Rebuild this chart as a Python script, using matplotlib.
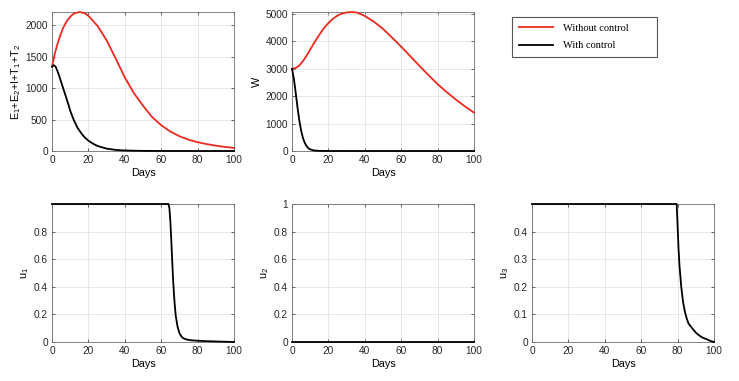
import matplotlib
matplotlib.use("Agg")
import matplotlib.pyplot as plt
from matplotlib.ticker import FuncFormatter

# ---------------- data ----------------
t_E_red = [0, 1, 2, 3, 4, 6, 8, 10, 12, 15, 18, 20, 25, 30, 35, 40, 45, 50, 55, 60,
           65, 70, 75, 80, 85, 90, 95, 100]
E_red = [1340, 1480, 1600, 1700, 1790, 1950, 2060, 2135, 2185, 2210, 2190, 2150,
         1990, 1760, 1470, 1170, 920, 720, 540, 410, 310, 235, 180, 140, 110, 85,
         65, 50]

t_E_black = [0, 1, 2, 3, 4, 5, 6, 7, 8, 9, 10, 12, 14, 16, 18, 20, 22, 25, 30,
             35, 40, 50, 60, 80, 100]
E_black = [1340, 1365, 1340, 1270, 1190, 1100, 1010, 920, 830, 740, 640, 490, 370,
           285, 215, 165, 125, 80, 38, 17, 8, 2, 0.5, 0, 0]

t_W_red = [0, 2, 4, 6, 8, 10, 12, 14, 16, 18, 20, 22, 24, 26, 28, 30, 33, 36, 40,
           45, 50, 55, 60, 65, 70, 75, 80, 85, 90, 95, 100]
W_red = [3000, 3030, 3120, 3280, 3480, 3700, 3930, 4140, 4340, 4520, 4670, 4800,
         4900, 4980, 5030, 5060, 5075, 5050, 4930, 4720, 4460, 4140, 3810, 3460,
         3110, 2770, 2440, 2150, 1880, 1630, 1400]

t_W_black = [0, 1, 2, 3, 4, 5, 6, 7, 8, 9, 10, 12, 15, 20, 30, 100]
W_black = [3000, 2650, 2150, 1600, 1120, 750, 480, 300, 180, 100, 60, 20, 5, 1, 0, 0]

t_u1 = [0, 64, 64.5, 65, 65.5, 66, 66.5, 67, 67.5, 68, 69, 70, 71, 72, 74, 76,
        80, 85, 90, 95, 100]
u1 = [1, 1, 0.97, 0.88, 0.75, 0.6, 0.46, 0.35, 0.26, 0.19, 0.11, 0.065, 0.042,
      0.028, 0.018, 0.013, 0.009, 0.006, 0.004, 0.002, 0]

t_u2 = [0, 100]
u2 = [0, 0]

t_u3 = [0, 79.5, 80, 80.5, 81, 82, 83, 84, 85, 86, 88, 90, 92, 94, 96, 98, 100]
u3 = [0.5, 0.5, 0.42, 0.34, 0.28, 0.2, 0.145, 0.11, 0.085, 0.067, 0.05, 0.034,
      0.023, 0.015, 0.01, 0.004, 0]

xticks = [0, 20, 40, 60, 80, 100]
legend_labels = ["Without control", "With control"]

RED = "#ee2a1e"
BLACK = "#000000"
plt.rcParams["font.family"] = ["Liberation Sans", "DejaVu Sans"]
plt.rcParams["mathtext.fontset"] = "custom"
plt.rcParams["mathtext.rm"] = "Liberation Sans"
plt.rcParams["mathtext.it"] = "Liberation Sans"

W, H = 739, 381
fig = plt.figure(figsize=(W / 100, H / 100), dpi=100)


def rect(l, r, t, b):
    return [l / W, 1 - b / H, (r - l) / W, (b - t) / H]


fmt = FuncFormatter(lambda v, p: "%g" % v)


def style(ax, ylabel, yticks, ylim):
    ax.set_xlim(0, 100)
    ax.set_ylim(*ylim)
    ax.set_xticks(xticks)
    ax.set_yticks(yticks)
    ax.xaxis.set_major_formatter(fmt)
    ax.yaxis.set_major_formatter(fmt)
    ax.grid(True, color="#e3e3e3", linewidth=0.6)
    ax.set_axisbelow(True)
    ax.tick_params(direction="in", length=2.5, width=0.5, labelsize=7.3,
                   top=True, right=True, colors="#262626", pad=3)
    for s in ax.spines.values():
        s.set_color("#6e6e6e")
        s.set_linewidth(0.6)
    ax.set_xlabel("Days", fontsize=7.8, labelpad=2)
    ax.set_ylabel(ylabel, fontsize=7.8, labelpad=2)


kw = dict(lw=1.3, clip_on=False, zorder=3)

ax1 = fig.add_axes(rect(52, 234, 12, 151))
l_red, = ax1.plot(t_E_red, E_red, color=RED, **kw)
l_blk, = ax1.plot(t_E_black, E_black, color=BLACK, **kw)
style(ax1, r"$\mathregular{E_1}$+$\mathregular{E_2}$+I+$\mathregular{T_1}$+$\mathregular{T_2}$",
      [0, 500, 1000, 1500, 2000], (0, max(E_red)))

ax2 = fig.add_axes(rect(292, 474, 12, 151))
ax2.plot(t_W_red, W_red, color=RED, **kw)
ax2.plot(t_W_black, W_black, color=BLACK, **kw)
style(ax2, "W", [0, 1000, 2000, 3000, 4000, 5000], (0, max(W_red)))

ax3 = fig.add_axes(rect(52, 234, 204, 342))
ax3.plot(t_u1, u1, color=BLACK, **kw)
style(ax3, r"$\mathregular{u_1}$", [0, 0.2, 0.4, 0.6, 0.8], (0, 1))

ax4 = fig.add_axes(rect(292, 474, 204, 342))
ax4.plot(t_u2, u2, color=BLACK, **kw)
style(ax4, r"$\mathregular{u_2}$", [0, 0.2, 0.4, 0.6, 0.8, 1], (0, 1))

ax5 = fig.add_axes(rect(532, 714, 204, 342))
ax5.plot(t_u3, u3, color=BLACK, **kw)
style(ax5, r"$\mathregular{u_3}$", [0, 0.1, 0.2, 0.3, 0.4], (0, 0.5))

lx, rx, ty, by = 512, 657, 17, 57
leg = fig.legend([l_red, l_blk], legend_labels,
                 bbox_to_anchor=(lx / W, 1 - by / H, (rx - lx) / W, (by - ty) / H),
                 loc="upper left", mode="expand", borderaxespad=0,
                 prop={"family": "Liberation Serif", "size": 7.5},
                 handlelength=3.3, handletextpad=0.9, labelspacing=0.75,
                 borderpad=0.65, fancybox=False, framealpha=1)
leg.get_frame().set_edgecolor("#555555")
leg.get_frame().set_linewidth(0.8)

fig.savefig("out.png", dpi=100)
